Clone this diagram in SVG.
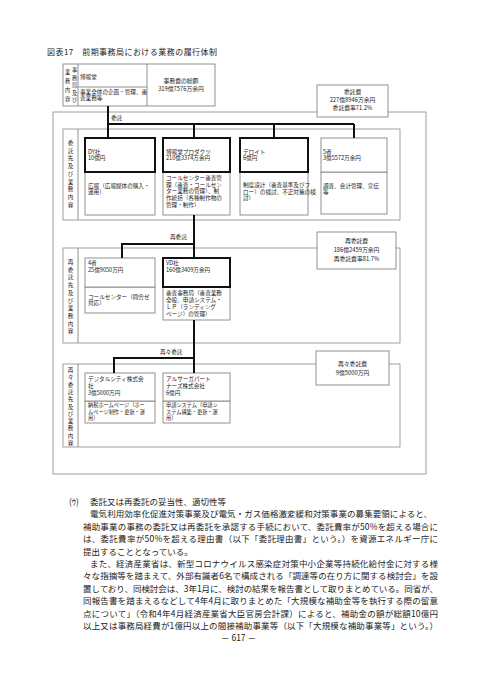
<svg xmlns="http://www.w3.org/2000/svg" width="478" height="675" viewBox="0 0 478 675">
<style>
text{font-family:"Noto Sans CJK JP","Noto Sans",sans-serif;fill:#222}
.s{font-size:5.6px}
.x{font-size:5.2px}
.v{font-size:5.6px;text-anchor:middle}
.m{font-size:5.8px;text-anchor:middle}
.b{font-size:8.5px}
.box{fill:#fff;stroke:#777;stroke-width:0.8}
.sec{fill:none;stroke:#888;stroke-width:0.8}
.thick{fill:#fff;stroke:#111;stroke-width:2}
.ln{stroke:#777;stroke-width:0.8}
.conn{fill:none;stroke:#111;stroke-width:2}
</style>
<rect width="478" height="675" fill="#fff"/>
<text x="47" y="55" style="font-size:8px" textLength="170" lengthAdjust="spacing">図表17　前期事務局における業務の履行体制</text>

<g id="outer"><rect class="sec" x="53" y="112" width="373" height="362"/></g>

<g id="top-box">
<rect class="box" x="63" y="64" width="152" height="42"/>
<line class="ln" x1="78" y1="64" x2="78" y2="106"/>
<line class="ln" x1="147" y1="64" x2="147" y2="106"/>
<line class="ln" x1="78" y1="87" x2="147" y2="87"/>
<text style="font-size:5.2px;text-anchor:middle"><tspan x="74.5" y="72">事</tspan><tspan x="74.5" y="79.5">務</tspan><tspan x="74.5" y="87">局</tspan><tspan x="74.5" y="94.5">及</tspan><tspan x="74.5" y="102">び</tspan></text>
<text style="font-size:5.2px;text-anchor:middle"><tspan x="67.5" y="74">業</tspan><tspan x="67.5" y="83">務</tspan><tspan x="67.5" y="92">内</tspan><tspan x="67.5" y="101">容</tspan></text>
<text class="s" x="80" y="78.7">博報堂</text>
<text class="s" x="80" y="93.5">事業全体の企画・管理、審</text>
<text class="s" x="80" y="100.4">査業務等</text>
<text class="m" x="181" y="82.8">事務費の総額</text>
<text class="m" x="181" y="90.6">319億7576万余円</text>
</g>

<g id="fee1">
<rect class="box" x="317" y="85" width="71" height="32"/>
<text class="m" x="352.5" y="94">委託費</text>
<text class="m" x="352.5" y="102">227億8946万余円</text>
<text class="m" x="352.5" y="110">委託費率71.2%</text>
</g>

<g id="sec1">
<rect class="sec" x="63" y="129" width="337" height="91"/>
<line class="ln" x1="78" y1="129" x2="78" y2="220"/>
<text class="v"><tspan x="70.5" y="145">委</tspan><tspan x="70.5" y="152.7">託</tspan><tspan x="70.5" y="160.4">先</tspan><tspan x="70.5" y="168.1">及</tspan><tspan x="70.5" y="175.8">び</tspan><tspan x="70.5" y="183.5">業</tspan><tspan x="70.5" y="191.2">務</tspan><tspan x="70.5" y="198.9">内</tspan><tspan x="70.5" y="206.6">容</tspan></text>
</g>

<g id="dy">
<rect class="box" x="85" y="172" width="70" height="43"/>
<rect class="thick" x="85" y="138" width="70" height="34"/>
<text class="s" x="88" y="153.5">DY社</text>
<text class="s" x="88" y="160.4">10億円</text>
<text class="s" x="88" y="187.5">広報（広報媒体の購入・</text>
<text class="s" x="88" y="194.4">運用）</text>
</g>

<g id="hakuhodo-products">
<rect class="box" x="163" y="172" width="67" height="43"/>
<rect class="thick" x="163" y="138" width="67" height="34"/>
<text class="s" x="166" y="153.5">博報堂プロダクツ</text>
<text class="s" x="166" y="160.4">210億3374万余円</text>
<text class="s" x="166" y="179.6">コールセンター審査管</text>
<text class="s" x="166" y="186.5">理（審査・コールセン</text>
<text class="s" x="166" y="193.4">ター業務の管理）、制</text>
<text class="s" x="166" y="200.3">作統括（各種制作物の</text>
<text class="s" x="166" y="207.2">管理・制作）</text>
</g>

<g id="deloitte">
<rect class="box" x="240" y="172" width="68" height="43"/>
<rect class="thick" x="240" y="138" width="68" height="34"/>
<text class="s" x="243" y="153.5">デロイト</text>
<text class="s" x="243" y="160.4">6億円</text>
<text class="s" x="243" y="186.6">制度設計（審査基準及びフ</text>
<text class="s" x="243" y="193.5">ロー）の検討、不正対策の検</text>
<text class="s" x="243" y="200.4">討）</text>
</g>

<g id="five">
<rect class="box" x="321" y="172" width="66" height="42"/>
<rect class="box" x="321" y="138" width="66" height="34"/>
<text class="s" x="323" y="153.5">5者</text>
<text class="s" x="323" y="160.4">3億5572万余円</text>
<text class="s" x="323" y="187.5">調査、会計管理、宣伝</text>
<text class="s" x="323" y="194.4">等</text>
</g>

<g id="sec2">
<rect class="sec" x="63" y="248" width="337" height="95"/>
<line class="ln" x1="78" y1="248" x2="78" y2="343"/>
<text class="v"><tspan x="70.5" y="264">再</tspan><tspan x="70.5" y="271.7">委</tspan><tspan x="70.5" y="279.4">託</tspan><tspan x="70.5" y="287.1">先</tspan><tspan x="70.5" y="294.8">及</tspan><tspan x="70.5" y="302.5">び</tspan><tspan x="70.5" y="310.2">業</tspan><tspan x="70.5" y="317.9">務</tspan><tspan x="70.5" y="325.6">内</tspan><tspan x="70.5" y="333.3">容</tspan></text>
</g>

<g id="fee2">
<rect class="box" x="317" y="232" width="79" height="37"/>
<text class="m" x="356.5" y="242.7">再委託費</text>
<text class="m" x="356.5" y="252">186億2459万余円</text>
<text class="m" x="356.5" y="261.3">再委託費率81.7%</text>
</g>

<g id="four">
<rect class="box" x="85" y="287" width="70" height="26"/>
<rect class="box" x="85" y="258" width="70" height="29"/>
<text class="s" x="88" y="265.1">4者</text>
<text class="s" x="88" y="272">25億9050万円</text>
<text class="s" x="88" y="298.5">コールセンター（問合せ</text>
<text class="s" x="88" y="305.4">対応）</text>
</g>

<g id="vd">
<rect class="box" x="163" y="287" width="67" height="33"/>
<rect class="thick" x="163" y="258" width="67" height="29"/>
<text class="s" x="166" y="264.6">VD社</text>
<text class="s" x="166" y="271.5">160億3409万余円</text>
<text class="s" x="166" y="294.8">審査事務局（審査業務</text>
<text class="s" x="166" y="301.7">全般、申請システム・</text>
<text class="s" x="166" y="308.6">ＬＰ（ランディング</text>
<text class="s" x="166" y="315.5">ページ）の管理）</text>
</g>

<g id="sec3">
<rect class="sec" x="63" y="364" width="337" height="83"/>
<line class="ln" x1="78" y1="364" x2="78" y2="447"/>
<text class="v"><tspan x="70.5" y="372">再</tspan><tspan x="70.5" y="379.3">々</tspan><tspan x="70.5" y="386.6">委</tspan><tspan x="70.5" y="393.9">託</tspan><tspan x="70.5" y="401.2">先</tspan><tspan x="70.5" y="408.5">及</tspan><tspan x="70.5" y="415.8">び</tspan><tspan x="70.5" y="423.1">業</tspan><tspan x="70.5" y="430.4">務</tspan><tspan x="70.5" y="437.7">内</tspan><tspan x="70.5" y="445">容</tspan></text>
</g>

<g id="fee3">
<rect class="box" x="316" y="351" width="73" height="34"/>
<text class="m" x="352.5" y="366">再々委託費</text>
<text class="m" x="352.5" y="375.3">9億5000万円</text>
</g>

<g id="digitalcity">
<rect class="box" x="85" y="401" width="70" height="22"/>
<rect class="box" x="85" y="373" width="70" height="28"/>
<text class="s" x="88" y="381.4">デジタルシティ株式会</text>
<text class="s" x="88" y="388.3">社</text>
<text class="s" x="88" y="395.2">3億5000万円</text>
<text class="x" x="88" y="407.2">納税ホームページ（ホー</text>
<text class="x" x="88" y="413.7">ムページ制作・更新・運</text>
<text class="x" x="88" y="420.2">用）</text>
</g>

<g id="arsaga">
<rect class="box" x="163" y="401" width="67" height="22"/>
<rect class="box" x="163" y="373" width="67" height="28"/>
<text class="s" x="166" y="381.4">アルサーガパート</text>
<text class="s" x="166" y="388.3">ナーズ株式会社</text>
<text class="s" x="166" y="395.2">6億円</text>
<text class="x" x="166" y="407.2">申請システム（申請シ</text>
<text class="x" x="166" y="413.7">ステム構築・更新・運</text>
<text class="x" x="166" y="420.2">用）</text>
</g>

<g id="connectors">
<path class="conn" d="M108,106 V138 M108,124 H354 M194,124 V138 M274,124 V138 M354,124 V138"/>
<path class="conn" d="M194,215 V258 M122,244 H194 M122,243 V258"/>
<path class="conn" d="M194,320 V373 M114,358 H194 M114,357 V373"/>
<text class="s" x="111" y="120">委託</text>
<text class="s" x="170" y="238.7">再委託</text>
<text class="s" x="160" y="353.7">再々委託</text>
</g>

<g id="body">
<text class="b" x="69" y="505">(ｳ)</text>
<text class="b" x="90" y="505">委託又は再委託の妥当性、適切性等</text>
<text class="b" x="90" y="517.4" textLength="342" lengthAdjust="spacing">電気利用効率化促進対策事業及び電気・ガス価格激変緩和対策事業の募集要領によると、</text>
<text class="b" x="83" y="529.8" textLength="355" lengthAdjust="spacing">補助事業の事務の委託又は再委託を承認する手続において、委託費率が50%を超える場合に</text>
<text class="b" x="83" y="542.2" textLength="355" lengthAdjust="spacing">は、委託費率が50%を超える理由書（以下「委託理由書」という。）を資源エネルギー庁に</text>
<text class="b" x="83" y="554.6">提出することとなっている。</text>
<text class="b" x="90" y="567" textLength="348" lengthAdjust="spacing">また、経済産業省は、新型コロナウイルス感染症対策中小企業等持続化給付金に対する様</text>
<text class="b" x="83" y="579.4" textLength="355" lengthAdjust="spacing">々な指摘等を踏まえて、外部有識者6名で構成される「調達等の在り方に関する検討会」を設</text>
<text class="b" x="83" y="591.8" textLength="355" lengthAdjust="spacing">置しており、同検討会は、3年1月に、検討の結果を報告書として取りまとめている。同省が、</text>
<text class="b" x="83" y="604.2" textLength="355" lengthAdjust="spacing">同報告書を踏まえるなどして4年4月に取りまとめた「大規模な補助金等を執行する際の留意</text>
<text class="b" x="83" y="616.6" textLength="355" lengthAdjust="spacing">点について」（令和4年4月経済産業省大臣官房会計課）によると、補助金の額が総額10億円</text>
<text class="b" x="83" y="629" textLength="355" lengthAdjust="spacing">以上又は事務局経費が1億円以上の間接補助事業等（以下「大規模な補助事業等」という。）</text>
<text class="b" x="238.5" y="641.4" style="text-anchor:middle">－ 617 －</text>
</g>
</svg>
